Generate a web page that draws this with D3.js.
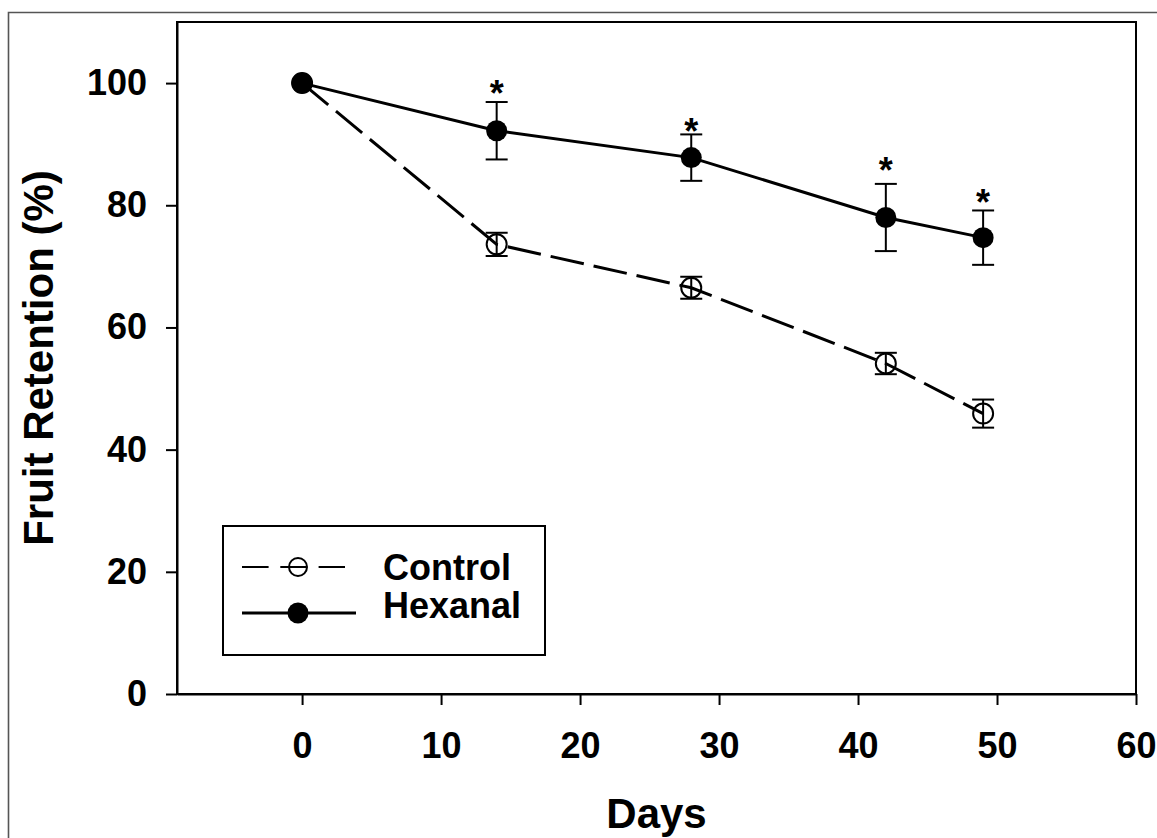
<!DOCTYPE html>
<html>
<head>
<meta charset="utf-8">
<script src="https://cdn.jsdelivr.net/npm/d3@7"></script>
<style>
  html, body { margin: 0; padding: 0; background: #fff; }
  svg { display: block; }
  text { font-family: "Liberation Sans", Arial, sans-serif; font-weight: bold; fill: #000; }
</style>
</head>
<body>
<svg id="chart" width="1157" height="838"></svg>
<script>
// ---- data ----
const days = [0, 14, 28, 42, 49];
const controlMean = [100, 73.6, 66.5, 54.1, 45.9];
const controlErr  = [0, 1.9, 1.8, 1.75, 2.3];
const hexanalMean = [100, 92.2, 87.8, 78.0, 74.7];
const hexanalErr  = [0, 4.7, 3.8, 5.5, 4.45];
const starDays = [14, 28, 42, 49];
const starLevel = [99.6, 93.3, 86.9, 81.6];
const xTicks = [0, 10, 20, 30, 40, 50, 60];
const yTicks = [0, 20, 40, 60, 80, 100];
const seriesNames = ["Control", "Hexanal"];
const xTitle = "Days";
const yTitle = "Fruit Retention (%)";

// ---- layout ----
const svg = d3.select("#chart");
const L = 177, R = 1136, T = 22, B = 694;
const x = d3.scaleLinear().domain([-9, 60]).range([L, R]);
const y = d3.scaleLinear().domain([0, 110]).range([B, T]);

// outer frame
svg.append("path")
  .attr("d", "M8.5,838 L8.5,12.5 L1157,12.5")
  .attr("fill", "none").attr("stroke", "#555").attr("stroke-width", 1.6);

// plot box
svg.append("rect")
  .attr("x", L).attr("y", T).attr("width", R - L).attr("height", B - T)
  .attr("fill", "none").attr("stroke", "#000").attr("stroke-width", 2);

// axes
const xAxis = svg.append("g").attr("transform", `translate(0,${B})`)
  .call(d3.axisBottom(x).tickValues(xTicks).tickSize(11).tickSizeOuter(0).tickPadding(27).tickFormat(d3.format("d")));
const yAxis = svg.append("g").attr("transform", `translate(${L},0)`)
  .call(d3.axisLeft(y).tickValues(yTicks).tickSize(11).tickSizeOuter(0).tickPadding(19).tickFormat(d3.format("d")));
[xAxis, yAxis].forEach(g => {
  g.select(".domain").attr("stroke", "#000").attr("stroke-width", 2);
  g.selectAll(".tick line").attr("stroke", "#000").attr("stroke-width", 2);
  g.selectAll(".tick text").style("font-size", "36px").style("font-family", "'Liberation Sans', Arial, sans-serif").style("font-weight", "bold").attr("fill", "#000");
});

// titles
svg.append("text").attr("x", (L + R) / 2).attr("y", 828)
  .attr("text-anchor", "middle").style("font-size", "42px").text(xTitle);
svg.append("text").attr("transform", `translate(53,${(T + B) / 2}) rotate(-90)`)
  .attr("text-anchor", "middle").style("font-size", "42px").text(yTitle);

// series lines
const ctrl = days.map((d, i) => ({ d, m: controlMean[i], e: controlErr[i] }));
const hex = days.map((d, i) => ({ d, m: hexanalMean[i], e: hexanalErr[i] }));
const line = d3.line().x(p => x(p.d)).y(p => y(p.m));

svg.append("path").datum(ctrl).attr("d", line)
  .attr("fill", "none").attr("stroke", "#000").attr("stroke-width", 3)
  .attr("stroke-dasharray", "34,10");
svg.append("path").datum(hex).attr("d", line)
  .attr("fill", "none").attr("stroke", "#000").attr("stroke-width", 3);

// error bars
function errBars(data) {
  const g = svg.append("g").attr("stroke", "#000").attr("stroke-width", 2);
  data.filter(p => p.e > 0).forEach(p => {
    const cx = x(p.d), y1 = y(p.m + p.e), y2 = y(p.m - p.e);
    g.append("line").attr("x1", cx).attr("x2", cx).attr("y1", y1).attr("y2", y2);
    g.append("line").attr("x1", cx - 11).attr("x2", cx + 11).attr("y1", y1).attr("y2", y1);
    g.append("line").attr("x1", cx - 11).attr("x2", cx + 11).attr("y1", y2).attr("y2", y2);
  });
}
errBars(ctrl);
errBars(hex);

// markers
svg.append("g").selectAll("circle").data(ctrl).join("circle")
  .attr("cx", p => x(p.d)).attr("cy", p => y(p.m)).attr("r", 10)
  .attr("fill", "none").attr("stroke", "#000").attr("stroke-width", 2);
svg.append("g").selectAll("circle").data(hex).join("circle")
  .attr("cx", p => x(p.d)).attr("cy", p => y(p.m)).attr("r", 10.5)
  .attr("fill", "#000");

// significance stars
svg.append("g").selectAll("text").data(starDays).join("text")
  .attr("x", d => x(d)).attr("y", (d, i) => y(starLevel[i]) + 20)
  .attr("text-anchor", "middle").style("font-size", "36px").text("*");

// legend
const lg = svg.append("g");
lg.append("rect").attr("x", 223).attr("y", 526).attr("width", 322).attr("height", 129)
  .attr("fill", "#fff").attr("stroke", "#000").attr("stroke-width", 2);
lg.append("line").attr("x1", 242).attr("x2", 345).attr("y1", 567).attr("y2", 567)
  .attr("stroke", "#000").attr("stroke-width", 2).attr("stroke-dasharray", "26.6,11.7");
lg.append("circle").attr("cx", 298).attr("cy", 567).attr("r", 9)
  .attr("fill", "none").attr("stroke", "#000").attr("stroke-width", 2);
lg.append("line").attr("x1", 242).attr("x2", 356).attr("y1", 613).attr("y2", 613)
  .attr("stroke", "#000").attr("stroke-width", 3);
lg.append("circle").attr("cx", 298).attr("cy", 613).attr("r", 10.5).attr("fill", "#000");
lg.append("text").attr("x", 383).attr("y", 580).style("font-size", "36px").text(seriesNames[0]);
lg.append("text").attr("x", 383).attr("y", 618).style("font-size", "36px").text(seriesNames[1]);
</script>
</body>
</html>
